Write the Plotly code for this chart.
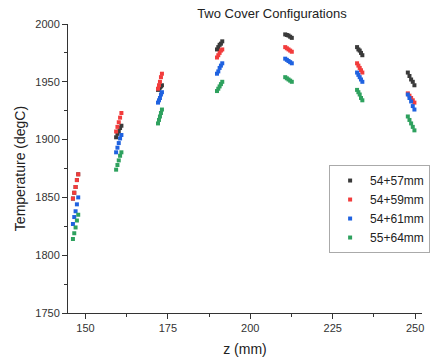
import plotly.graph_objects as go

series_names = ["54+57mm", "54+59mm", "54+61mm", "55+64mm"]
colors = ["#3a3a3a", "#f23c3c", "#1f62e0", "#2ea15e"]

z_vals = [
    146.2, 146.6, 147.0, 147.4, 147.8,
    159.3, 159.7, 160.1, 160.5, 160.9,
    172.0, 172.3, 172.6, 172.9, 173.2,
    189.9, 190.3, 190.7, 191.1, 191.5,
    210.6, 211.1, 211.6, 212.1, 212.6,
    232.4, 232.8, 233.2, 233.6, 234.0,
    247.8, 248.3, 248.8, 249.3, 249.8,
]

t_5457 = [
    1849, 1854, 1859, 1865, 1870,
    1902, 1905, 1907, 1910, 1912,
    1943, 1944, 1945, 1946, 1947,
    1978, 1980, 1982, 1983, 1985,
    1991, 1990.5, 1990, 1989, 1988,
    1980, 1978, 1977, 1975, 1973,
    1958, 1955, 1952, 1950, 1947,
]
t_5459 = [
    1849, 1854, 1859, 1865, 1870,
    1907, 1911, 1915, 1919, 1923,
    1944, 1947, 1950, 1954, 1957,
    1971, 1973, 1975, 1977, 1978,
    1980, 1979, 1978, 1977, 1976,
    1966, 1964, 1962, 1960, 1958,
    1940, 1938, 1936, 1934, 1932,
]
t_5461 = [
    1827, 1833, 1838, 1844, 1850,
    1889, 1893, 1897, 1901, 1904,
    1932, 1934, 1936, 1939, 1941,
    1957, 1959, 1962, 1964, 1966,
    1970, 1969, 1968, 1967, 1966,
    1958, 1956, 1954, 1952, 1950,
    1939, 1936, 1933, 1929, 1926,
]
t_5564 = [
    1814, 1819, 1824, 1830, 1835,
    1874, 1878, 1882, 1886, 1889,
    1914, 1917, 1920, 1923, 1926,
    1942, 1944, 1946, 1948, 1950,
    1954, 1953, 1952, 1951, 1950,
    1943, 1941, 1939, 1936, 1934,
    1920, 1917, 1914, 1911, 1908,
]
all_t = [t_5457, t_5459, t_5461, t_5564]

x_ticks = [150, 175, 200, 225, 250]
y_ticks = [1750, 1800, 1850, 1900, 1950, 2000]

fig = go.Figure()
for name, col, t in zip(series_names, colors, all_t):
    fig.add_trace(go.Scatter(
        x=z_vals, y=t, mode="markers", name=name,
        marker=dict(symbol="square", size=4, color=col, line=dict(width=0)),
    ))

font_family = "Liberation Sans, Arial, sans-serif"
axis_common = dict(
    showline=True, linecolor="#333333", linewidth=1,
    ticks="outside", ticklen=5, tickcolor="#333333", tickwidth=1,
    showgrid=False, zeroline=False, mirror=False,
    tickfont=dict(family=font_family, size=11, color="#333333"),
)

fig.update_layout(
    width=433, height=364,
    margin=dict(l=68, r=3, t=24, b=51),
    paper_bgcolor="white", plot_bgcolor="white",
    title=dict(text="Two Cover Configurations", x=0.628, xanchor="center",
               y=0.962, yanchor="middle",
               font=dict(family=font_family, size=13, color="#222222")),
    xaxis=dict(range=[144.7, 252.1], tickvals=x_ticks,
               minor=dict(ticks="outside", ticklen=3, dtick=12.5, tick0=150,
                          tickcolor="#333333"),
               title=dict(text="z (mm)", standoff=10,
                          font=dict(family=font_family, size=14, color="#222222")),
               **axis_common),
    yaxis=dict(range=[1750, 2000], tickvals=y_ticks,
               minor=dict(ticks="outside", ticklen=3, dtick=25, tick0=1750,
                          tickcolor="#333333"),
               title=dict(text="Temperature (degC)", standoff=6,
                          font=dict(family=font_family, size=14, color="#222222")),
               **axis_common),
    legend=dict(x=0.7376, y=0.512, xanchor="left", yanchor="top",
                bordercolor="#aaaaaa", borderwidth=1, bgcolor="white",
                font=dict(family=font_family, size=12, color="#222222"),
                tracegroupgap=0, itemsizing="trace", itemwidth=30),
    showlegend=True,
)

fig.write_html("out.html")
